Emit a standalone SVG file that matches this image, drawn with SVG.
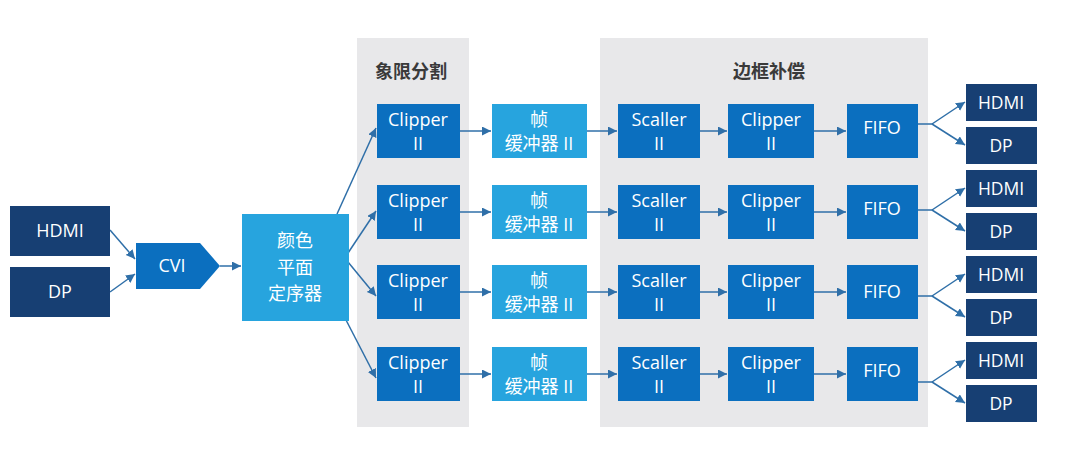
<svg xmlns="http://www.w3.org/2000/svg" width="1080" height="471" viewBox="0 0 1080 471">
<defs>
<style>
.panel{fill:#e8e8ea}
.navy{fill:#173f73}
.mid{fill:#0b6fbf}
.light{fill:#27a4de}
.t{font-family:"Open Sans","Noto Sans CJK SC",sans-serif;font-size:18px;fill:#ffffff;text-anchor:middle}
.s{font-size:17.5px}
.lbl{font-family:"Open Sans","Noto Sans CJK SC",sans-serif;font-size:18px;font-weight:bold;fill:#3a3a3a;text-anchor:middle}
.c{fill:none;stroke:#2f6fa8;stroke-width:1.5;marker-end:url(#ah)}
</style>
<marker id="ah" markerUnits="userSpaceOnUse" markerWidth="10" markerHeight="10" refX="9" refY="4.5" orient="auto">
<path d="M0,0 L9,4.5 L0,9 z" fill="#2f6fa8"/>
</marker>
</defs>
<rect width="1080" height="471" fill="#ffffff"/>
<g id="panel-quadrant">
<rect class="panel" x="357" y="38" width="112" height="389"/>
<text class="lbl" x="411" y="78">象限分割</text>
</g>
<g id="panel-bezel">
<rect class="panel" x="600" y="38" width="328" height="389"/>
<text class="lbl" x="769" y="78">边框补偿</text>
</g>
<g id="connectors">
<path class="c" d="M110,230 L135,259"/>
<path class="c" d="M110,292 L135,274"/>
<path class="c" d="M220,266 L241,266"/>
<path class="c" d="M337,214 L376,128"/>
<path class="c" d="M348,253 L376,211"/>
<path class="c" d="M348,262 L376,296"/>
<path class="c" d="M346,320 L376,378"/>
<path class="c" d="M460,131 L491,131"/><path class="c" d="M587,131 L617,131"/><path class="c" d="M700,131 L727,131"/><path class="c" d="M814,131 L846,131"/>
<path class="c" d="M460,212 L491,212"/><path class="c" d="M587,212 L617,212"/><path class="c" d="M700,212 L727,212"/><path class="c" d="M814,212 L846,212"/>
<path class="c" d="M460,292 L491,292"/><path class="c" d="M587,292 L617,292"/><path class="c" d="M700,292 L727,292"/><path class="c" d="M814,292 L846,292"/>
<path class="c" d="M460,374 L491,374"/><path class="c" d="M587,374 L617,374"/><path class="c" d="M700,374 L727,374"/><path class="c" d="M814,374 L846,374"/>
<path fill="none" stroke="#2f6fa8" stroke-width="1.5" d="M918,124 L932,124 M918,210 L932,210 M918,296 L932,296 M918,382 L932,382"/>
<path class="c" d="M932,124 L965,102"/><path class="c" d="M932,124 L965,145"/>
<path class="c" d="M932,210 L965,188"/><path class="c" d="M932,210 L965,231"/>
<path class="c" d="M932,296 L965,274"/><path class="c" d="M932,296 L965,317"/>
<path class="c" d="M932,382 L965,360"/><path class="c" d="M932,382 L965,403"/>
</g>
<g id="in-hdmi"><rect class="navy" x="10" y="206" width="100" height="50"/><text class="t" x="60" y="237">HDMI</text></g>
<g id="in-dp"><rect class="navy" x="10" y="267" width="100" height="50"/><text class="t" x="60" y="298">DP</text></g>
<g id="cvi"><polygon class="mid" points="136,243 200,243 220,266 200,289 136,289"/><text class="t" x="172" y="272">CVI</text></g>
<g id="color-sequencer"><rect class="light" x="242" y="214" width="107" height="107"/>
<text class="t" x="295" y="247">颜色</text><text class="t" x="295" y="274">平面</text><text class="t" x="295" y="300">定序器</text></g>

<g id="clipper-1"><rect class="mid" x="377" y="104" width="83" height="54"/><text class="t" x="418" y="126">Clipper</text><text class="t" x="418" y="150">II</text></g>
<g id="fb-1"><rect class="light" x="492" y="104" width="95" height="54"/><text class="t" x="539" y="126">帧</text><text class="t" x="539" y="150">缓冲器 II</text></g>
<g id="scaller-1"><rect class="mid" x="618" y="104" width="82" height="54"/><text class="t" x="659" y="126">Scaller</text><text class="t" x="659" y="150">II</text></g>
<g id="clipper2-1"><rect class="mid" x="728" y="104" width="86" height="54"/><text class="t" x="771" y="126">Clipper</text><text class="t" x="771" y="150">II</text></g>
<g id="fifo-1"><rect class="mid" x="847" y="104" width="71" height="54"/><text class="t" x="882" y="134">FIFO</text></g>

<g id="clipper-2"><rect class="mid" x="377" y="185" width="83" height="54"/><text class="t" x="418" y="207">Clipper</text><text class="t" x="418" y="231">II</text></g>
<g id="fb-2"><rect class="light" x="492" y="185" width="95" height="54"/><text class="t" x="539" y="207">帧</text><text class="t" x="539" y="231">缓冲器 II</text></g>
<g id="scaller-2"><rect class="mid" x="618" y="185" width="82" height="54"/><text class="t" x="659" y="207">Scaller</text><text class="t" x="659" y="231">II</text></g>
<g id="clipper2-2"><rect class="mid" x="728" y="185" width="86" height="54"/><text class="t" x="771" y="207">Clipper</text><text class="t" x="771" y="231">II</text></g>
<g id="fifo-2"><rect class="mid" x="847" y="185" width="71" height="54"/><text class="t" x="882" y="215">FIFO</text></g>

<g id="clipper-3"><rect class="mid" x="377" y="265" width="83" height="54"/><text class="t" x="418" y="287">Clipper</text><text class="t" x="418" y="311">II</text></g>
<g id="fb-3"><rect class="light" x="492" y="265" width="95" height="54"/><text class="t" x="539" y="287">帧</text><text class="t" x="539" y="311">缓冲器 II</text></g>
<g id="scaller-3"><rect class="mid" x="618" y="265" width="82" height="54"/><text class="t" x="659" y="287">Scaller</text><text class="t" x="659" y="311">II</text></g>
<g id="clipper2-3"><rect class="mid" x="728" y="265" width="86" height="54"/><text class="t" x="771" y="287">Clipper</text><text class="t" x="771" y="311">II</text></g>
<g id="fifo-3"><rect class="mid" x="847" y="265" width="71" height="54"/><text class="t" x="882" y="298">FIFO</text></g>

<g id="clipper-4"><rect class="mid" x="377" y="347" width="83" height="54"/><text class="t" x="418" y="369">Clipper</text><text class="t" x="418" y="393">II</text></g>
<g id="fb-4"><rect class="light" x="492" y="347" width="95" height="54"/><text class="t" x="539" y="369">帧</text><text class="t" x="539" y="393">缓冲器 II</text></g>
<g id="scaller-4"><rect class="mid" x="618" y="347" width="82" height="54"/><text class="t" x="659" y="369">Scaller</text><text class="t" x="659" y="393">II</text></g>
<g id="clipper2-4"><rect class="mid" x="728" y="347" width="86" height="54"/><text class="t" x="771" y="369">Clipper</text><text class="t" x="771" y="393">II</text></g>
<g id="fifo-4"><rect class="mid" x="847" y="347" width="71" height="54"/><text class="t" x="882" y="377">FIFO</text></g>

<g id="out-hdmi-1"><rect class="navy" x="966" y="84" width="71" height="37"/><text class="t s" x="1001" y="109">HDMI</text></g>
<g id="out-dp-1"><rect class="navy" x="966" y="127" width="71" height="37"/><text class="t s" x="1001" y="152">DP</text></g>
<g id="out-hdmi-2"><rect class="navy" x="966" y="170" width="71" height="37"/><text class="t s" x="1001" y="195">HDMI</text></g>
<g id="out-dp-2"><rect class="navy" x="966" y="213" width="71" height="37"/><text class="t s" x="1001" y="238">DP</text></g>
<g id="out-hdmi-3"><rect class="navy" x="966" y="256" width="71" height="37"/><text class="t s" x="1001" y="281">HDMI</text></g>
<g id="out-dp-3"><rect class="navy" x="966" y="299" width="71" height="37"/><text class="t s" x="1001" y="324">DP</text></g>
<g id="out-hdmi-4"><rect class="navy" x="966" y="342" width="71" height="37"/><text class="t s" x="1001" y="367">HDMI</text></g>
<g id="out-dp-4"><rect class="navy" x="966" y="385" width="71" height="37"/><text class="t s" x="1001" y="410">DP</text></g>
</svg>
